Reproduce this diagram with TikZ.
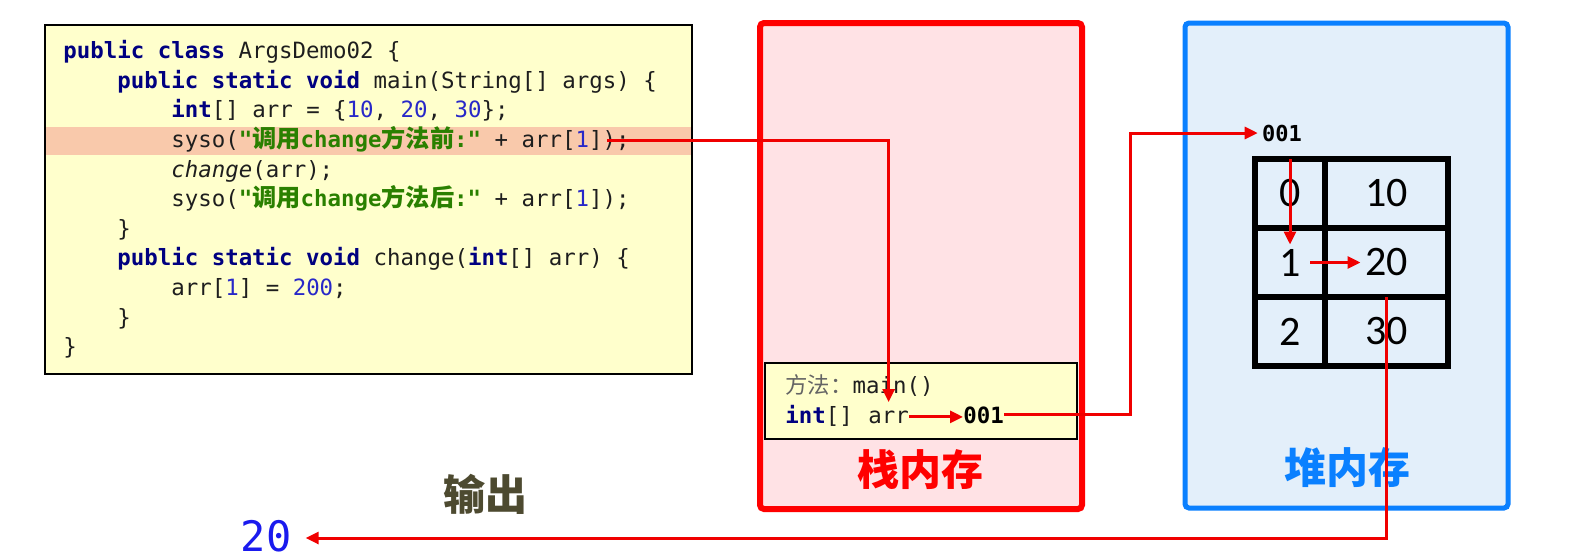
\documentclass[tikz,border=0pt]{standalone}
\usepackage{fontspec}
\setmainfont{DejaVu Sans}
\setmonofont{DejaVu Sans Mono}
\newfontfamily\cjk{Noto Sans CJK SC}
\newfontfamily\cjkcode{Noto Sans CJK SC}[Scale=1.08]
\newfontfamily\cellfont{Carlito}
\usetikzlibrary{arrows.meta}

\definecolor{codebg}{RGB}{255,255,204}
\definecolor{hlband}{RGB}{249,201,171}
\definecolor{stackbg}{RGB}{255,226,229}
\definecolor{stackred}{RGB}{255,0,0}
\definecolor{heapbg}{RGB}{227,239,250}
\definecolor{heapblue}{RGB}{10,128,255}
\definecolor{arrowred}{RGB}{240,0,0}
\definecolor{kwblue}{RGB}{0,0,128}
\definecolor{numblue}{RGB}{40,40,200}
\definecolor{strgreen}{RGB}{42,128,0}
\definecolor{codetext}{RGB}{30,30,30}
\definecolor{graytxt}{RGB}{100,100,100}
\definecolor{outolive}{RGB}{77,74,48}
\definecolor{outblue}{RGB}{26,26,238}

\newcommand\kw[1]{{\bfseries\color{kwblue}#1}}
\newcommand\jn[1]{{\color{numblue}#1}}
\newcommand\js[1]{{\bfseries\color{strgreen}#1}}
\newcommand\zh[1]{{\cjkcode #1}}

\tikzset{
  codeline/.style={anchor=base west, inner sep=0pt, text=codetext,
    font={\ttfamily\fontsize{11.2}{13}\selectfont}},
  refarrow/.style={draw=arrowred, line width=1.5pt, -{Triangle[length=6.5pt,width=6pt]}},
  cellbox/.style={draw, line width=3pt, minimum height=34.5pt, inner sep=0pt, outer sep=0pt,
    font={\cellfont\fontsize{21}{21}\selectfont}},
  biglabel/.style={font={\cjk\bfseries\fontsize{21}{21}\selectfont}}
}

\begin{document}
\begin{tikzpicture}[x=0.5pt,y=-0.5pt]
\useasboundingbox (0,0) rectangle (1586,559);

% source code
\draw[line width=1pt, fill=codebg] (44.5,25) rectangle (692,374);
\fill[hlband] (45.5,127) rectangle (691,155);
\node[codeline] (l1) at (63,58) {\kw{public class} ArgsDemo02 \{};
\node[codeline] (l2) at (117,88) {\kw{public static void} main(String[] args) \{};
\node[codeline] (l3) at (171,117) {\kw{int}[] arr = \{\jn{10}, \jn{20}, \jn{30}\};};
\node[codeline] (l4) at (171,147) {syso(\js{"\zh{调用}change\zh{方法前}:"} + arr[\jn{1}]);};
\node[codeline] (l5) at (171,177) {\textit{change}(arr);};
\node[codeline] (l6) at (171,206) {syso(\js{"\zh{调用}change\zh{方法后}:"} + arr[\jn{1}]);};
\node[codeline] (l7) at (117,236) {\}};
\node[codeline] (l8) at (117,265) {\kw{public static void} change(\kw{int}[] arr) \{};
\node[codeline] (l9) at (171,295) {arr[\jn{1}] = \jn{200};};
\node[codeline] (l10) at (117,325) {\}};
\node[codeline] (l11) at (63,354) {\}};
\coordinate (callsite) at (607,140);

% stack
\draw[line width=3pt, draw=stackred, fill=stackbg, rounded corners=2pt] (760,23) rectangle (1082,509);
\draw[line width=1pt, fill=codebg] (765,363) rectangle (1077,439);
\node[codeline] (mlabel) at (785,393) {{\cjk\color{graytxt}方法：}main()};
\node[codeline] (arrtype) at (785,423) {\kw{int}[]};
\node[codeline] (arrname) at (868,423) {arr};
\node[codeline, font={\ttfamily\bfseries\fontsize{11.2}{13}\selectfont}, text=black] (ptr) at (963,423) {001};
\node[biglabel, text=stackred] (stacklbl) at (920,470) {栈内存};

% heap
\draw[line width=2.5pt, draw=heapblue, fill=heapbg, rounded corners=2pt] (1185,23) rectangle (1508,508);
\node[font={\ttfamily\bfseries\fontsize{11}{13}\selectfont}, inner sep=2pt] (hptr) at (1282,133) {001};
\foreach \i/\v in {0/10,1/20,2/30} {
  \node[cellbox, minimum width=35pt] (c\i) at (1290,193.5+69*\i) {\raisebox{-2pt}{\i}};
  \node[cellbox, minimum width=61.5pt] (v\i) at (1386.5,193.5+69*\i) {\raisebox{-2pt}{\v}};
}
\node[biglabel, text=heapblue] (heaplbl) at (1347,468) {堆内存};
\coordinate (bend) at (1130,133);

% output
\node[biglabel, text=outolive] (outlbl) at (485,494) {输出};
\node[font={\ttfamily\fontsize{21}{21}\selectfont}, text=outblue, inner sep=0pt] (out) at (266,536) {20};

% arrows
\draw[refarrow] (callsite) -| ([yshift=4pt]arrname.north);
\draw[refarrow] (arrname.east) -- (arrname.east -| ptr.west);
\draw[refarrow] (ptr.east) -| (bend) -- (hptr.west);
\draw[refarrow] (c0.north) -- ([yshift=9pt]c1.center);
\draw[refarrow] ([xshift=10pt]c1.center) -- ([xshift=-13pt]v1.center);
\draw[refarrow] (v1.south) |- ([xshift=7pt,yshift=-1pt]out.east);
\end{tikzpicture}
\end{document}
